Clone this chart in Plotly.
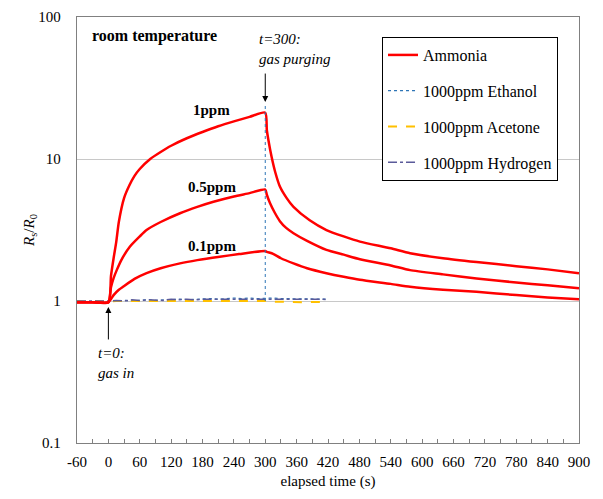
import plotly.graph_objects as go

# ---------------- data ----------------
# Ammonia responses (Rs/R0)
t_1ppm = [-60, -30, 0, 5, 10, 15, 20, 30, 40, 50, 60, 80, 100, 120, 150, 180, 210, 240, 270, 300,
          303, 306, 312, 319, 328, 341, 354, 385, 417, 450, 481, 540, 577, 640, 704, 780, 840, 900]
r_1ppm = [0.98, 0.98, 0.98, 1.5, 2.0, 2.6, 3.6, 5.3, 6.5, 7.6, 8.5, 10.0, 11.2, 12.4, 14.0, 15.5, 17.0, 18.4, 19.8, 21.2,
          16.0, 13.6, 10.4, 8.1, 6.4, 5.3, 4.6, 3.7, 3.16, 2.85, 2.62, 2.35, 2.17, 2.0, 1.88, 1.76, 1.67, 1.57]

t_05ppm = [-60, -30, 0, 5, 10, 16, 25, 41, 60, 73, 100, 137, 170, 201, 240, 270, 300,
           303, 309, 318, 328, 340, 354, 380, 417, 450, 481, 540, 577, 640, 704, 780, 840, 900]
r_05ppm = [0.98, 0.98, 0.98, 1.25, 1.45, 1.65, 1.95, 2.41, 2.85, 3.16, 3.6, 4.15, 4.6, 5.0, 5.45, 5.75, 6.1,
           5.6, 4.9, 4.2, 3.65, 3.27, 3.0, 2.65, 2.29, 2.12, 1.97, 1.78, 1.65, 1.54, 1.44, 1.35, 1.29, 1.23]

t_01ppm = [-60, -30, 0, 10, 20, 28, 50, 73, 100, 137, 170, 213, 250, 300,
           303, 315, 330, 354, 380, 417, 450, 481, 540, 577, 640, 704, 780, 840, 900]
r_01ppm = [0.98, 0.98, 0.98, 1.1, 1.2, 1.26, 1.43, 1.57, 1.7, 1.84, 1.94, 2.05, 2.14, 2.25,
           2.22, 2.15, 2.0, 1.84, 1.7, 1.57, 1.48, 1.41, 1.32, 1.26, 1.2, 1.16, 1.1, 1.06, 1.03]

# Interfering gases (1000 ppm)
t_gas = [-60, -45, -30, -15, 0, 15, 30, 45, 60, 75, 90, 105, 120, 135, 150, 165, 180,
         195, 210, 225, 240, 255, 270, 285, 300, 315, 330, 345, 360, 375, 390, 405, 420]
r_ethanol = [0.99, 0.99, 0.985, 0.99, 0.99, 1.0, 1.01, 1.0, 1.01, 1.02, 1.01, 1.02, 1.02, 1.03, 1.02, 1.03, 1.03,
             1.04, 1.03, 1.04, 1.05, 1.04, 1.05, 1.04, 1.05, 1.05, 1.04, 1.04, 1.03, 1.04, 1.03, 1.03, 1.03]
r_acetone = [1.0, 0.99, 1.0, 0.99, 0.99, 1.0, 1.0, 1.01, 1.0, 1.01, 1.0, 1.01, 1.0, 1.01, 1.01, 1.0, 1.01,
             1.0, 1.01, 1.0, 1.01, 1.0, 1.0, 1.01, 1.0, 0.99, 0.985, 0.99, 0.985, 0.98, 0.985, 0.98, 0.98]
r_hydrogen = [1.0, 1.0, 0.99, 1.0, 1.0, 1.01, 1.0, 1.02, 1.01, 1.02, 1.02, 1.01, 1.03, 1.02, 1.03, 1.02, 1.03,
              1.03, 1.04, 1.03, 1.04, 1.03, 1.04, 1.04, 1.04, 1.03, 1.04, 1.03, 1.03, 1.04, 1.03, 1.03, 1.02]

x_ticks = [-60, 0, 60, 120, 180, 240, 300, 360, 420, 480, 540, 600, 660, 720, 780, 840, 900]
x_ticktext = ["-60", "0", "60", "120", "180", "240", "300", "360", "420", "480", "540",
              "600", "660", "720", "780", "840", "900"]
y_ticks = [0.1, 1, 10, 100]
y_ticktext = ["0.1", "1", "10", "100"]

T_GAS_IN = 0
T_PURGE = 300
PURGE_LINE_TOP = 24

FONT = "Liberation Serif"
RED = "#ff0000"

fig = go.Figure()

fig.add_trace(go.Scatter(x=t_gas, y=r_ethanol, mode="lines", name="1000ppm Ethanol",
                         line=dict(color="#2e75b6", width=1.2, dash="dot"),
                         legendgroup="b", legendrank=2))
fig.add_trace(go.Scatter(x=t_gas, y=r_acetone, mode="lines", name="1000ppm Acetone",
                         line=dict(color="#ffc000", width=2, dash="dash"),
                         legendgroup="c", legendrank=3))
fig.add_trace(go.Scatter(x=t_gas, y=r_hydrogen, mode="lines", name="1000ppm Hydrogen",
                         line=dict(color="#5a5a9a", width=1.5, dash="dashdot"),
                         legendgroup="d", legendrank=4))

for tt, rr, show in [(t_1ppm, r_1ppm, True), (t_05ppm, r_05ppm, False), (t_01ppm, r_01ppm, False)]:
    fig.add_trace(go.Scatter(x=tt, y=rr, mode="lines", name="Ammonia",
                             line=dict(color=RED, width=2.5, shape="spline", smoothing=0.6),
                             legendgroup="a", legendrank=1, showlegend=show))

# vertical purge marker (dotted blue)
fig.add_shape(type="line", xref="x", yref="y", x0=T_PURGE, x1=T_PURGE, y0=1, y1=PURGE_LINE_TOP,
              line=dict(color="#2e75b6", width=1, dash="dot"))

ann_font = dict(family=FONT, size=15, color="black")
annotations = [
    dict(text="<b>room temperature</b>", xref="paper", yref="paper", x=0.026, y=0.955,
         xanchor="left", yanchor="middle", showarrow=False, font=dict(family=FONT, size=16, color="black")),
    dict(text="<i>t=300:<br>gas purging</i>", xref="paper", yref="paper", x=0.359, y=0.926,
         xanchor="left", yanchor="middle", align="left", showarrow=False, font=ann_font),
    dict(text="<i>t=0:<br>gas in</i>", xref="paper", yref="paper", x=0.038, y=0.188,
         xanchor="left", yanchor="middle", align="left", showarrow=False, font=ann_font),
    dict(text="<b>1ppm</b>", xref="x", yref="y", x=198, y=1.345, showarrow=False,
         font=dict(family=FONT, size=15, color="black")),
    dict(text="<b>0.5ppm</b>", xref="x", yref="y", x=198, y=0.803, showarrow=False,
         font=dict(family=FONT, size=15, color="black")),
    dict(text="<b>0.1ppm</b>", xref="x", yref="y", x=198, y=0.387, showarrow=False,
         font=dict(family=FONT, size=15, color="black")),
    dict(text="", xref="x", yref="y", x=T_PURGE, y=1.401, ax=0, ay=-30, showarrow=True,
         arrowhead=2, arrowsize=1.2, arrowwidth=1, arrowcolor="black"),
    dict(text="", xref="x", yref="y", x=T_GAS_IN, y=-0.042, ax=0, ay=34, showarrow=True,
         arrowhead=2, arrowsize=1.2, arrowwidth=1, arrowcolor="black"),
]

# page body has an 8px default margin: size and margins compensate for it
fig.update_layout(
    width=595, height=491,
    margin=dict(l=69, r=24, t=9, b=56, autoexpand=False),
    paper_bgcolor="white", plot_bgcolor="white",
    font=dict(family=FONT, size=15, color="black"),
    annotations=annotations,
    legend=dict(x=0.6076, y=0.953, xanchor="left", yanchor="top",
                bordercolor="black", borderwidth=1, bgcolor="white",
                font=dict(family=FONT, size=16, color="black"),
                tracegroupgap=12, traceorder="grouped"),
    xaxis=dict(range=[-60, 900], tickvals=x_ticks, ticktext=x_ticktext,
               ticks="inside", ticklen=4, tickcolor="#808080",
               minor=dict(dtick=30, tick0=-60, ticks="inside", ticklen=4, tickcolor="#808080"),
               showline=True, linecolor="#808080", linewidth=1.3, mirror=True, showgrid=False,
               zeroline=False, ticklabelstandoff=5, automargin=False,
               title=dict(text="elapsed time (s)", font=dict(family=FONT, size=15), standoff=6)),
    yaxis=dict(type="log", range=[-1, 2], tickvals=y_ticks, ticktext=y_ticktext, ticks="",
               showline=True, linecolor="#808080", linewidth=1.3, mirror=True,
               showgrid=True, gridcolor="#c8c8c8", gridwidth=1, zeroline=False,
               ticklabelstandoff=12, automargin=False,
               title=dict(text="<i>R</i><sub>s</sub>/<i>R</i><sub>0</sub>", font=dict(family=FONT, size=15),
                          standoff=0)),
)

fig.write_html("out.html")
